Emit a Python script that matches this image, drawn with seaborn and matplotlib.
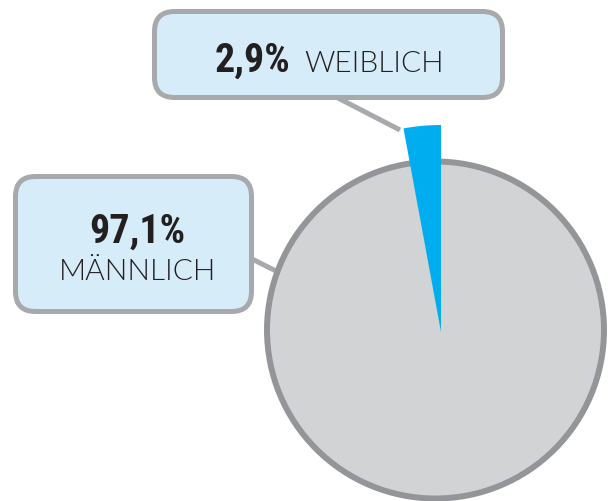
import matplotlib
matplotlib.use("Agg")
import matplotlib.pyplot as plt
from matplotlib import font_manager
from matplotlib.patches import FancyBboxPatch, Circle
import seaborn as sns

# ---- data ----
categories = ["MÄNNLICH", "WEIBLICH"]
shares = [97.1, 2.9]

# ---- style ----
sns.set_theme(style="white")
GREY_FILL = "#d1d3d4"
GREY_RIM = "#939598"
BOX_EDGE = "#a7a9ac"
BOX_FILL = "#d6ecf9"
BLUE = "#00aeef"
TEXT = "#231f20"

names = {f.name for f in font_manager.fontManager.ttflist}
bold_fam = next((f for f in ["Liberation Sans Narrow", "Roboto Condensed",
                             "DejaVu Sans Condensed", "Roboto"] if f in names), "DejaVu Sans")
light_fam = next((f for f in ["Lato", "Roboto", "Open Sans"] if f in names), "DejaVu Sans")

W, H = 609, 502
fig = plt.figure(figsize=(W / 100, H / 100), dpi=100)
ax = fig.add_axes([0, 0, 1, 1])

def Y(y):
    return H - y

def pct(v):
    return f"{v:.1f}".replace(".", ",") + "%"

# grey body of the pie (whole disc)
grey_w, _ = ax.pie(shares, colors=[GREY_FILL, GREY_FILL], startangle=90, counterclock=False,
                   center=(435.5, Y(331)), radius=168.5,
                   wedgeprops=dict(linewidth=0.5, edgecolor=GREY_FILL))
for w in grey_w:
    w.set_zorder(2)
ax.add_patch(Circle((435.5, Y(331)), 168.5, fill=False, ec=GREY_RIM, lw=4.3, zorder=3))

# highlighted wedge (drawn larger)
blue_w, _ = ax.pie(shares, colors=["none", BLUE], startangle=90, counterclock=False,
                   center=(441, Y(333)), radius=207,
                   wedgeprops=dict(linewidth=0))
blue_w[0].set_visible(False)
for w in blue_w:
    w.set_zorder(4)

# leader lines
ax.plot([338, 400], [Y(99), Y(131)], color=BOX_EDGE, lw=3.6, solid_capstyle="butt", zorder=1)
ax.plot([250, 276], [Y(259), Y(272)], color=BOX_EDGE, lw=3.6, solid_capstyle="butt", zorder=1)

# callout boxes
def box(x0, y0, x1, y1):
    p = FancyBboxPatch((x0, Y(y1)), x1 - x0, y1 - y0,
                       boxstyle="round,pad=0,rounding_size=20",
                       fc=BOX_FILL, ec=BOX_EDGE, lw=3.6, zorder=5)
    ax.add_patch(p)

box(154.5, 12.5, 502.5, 98.5)
box(15.5, 177.5, 251.5, 312.5)

# texts
ax.text(290, Y(72), pct(shares[1]), ha="right", va="baseline", fontsize=28.8,
        fontweight="bold", family=bold_fam, color=TEXT, zorder=6)
ax.text(304, Y(72), categories[1], ha="left", va="baseline", fontsize=21.5,
        fontweight=300, family=light_fam, color=TEXT, zorder=6)
ax.text(137, Y(243), pct(shares[0]), ha="center", va="baseline", fontsize=28.8,
        fontweight="bold", family=bold_fam, color=TEXT, zorder=6)
ax.text(137.5, Y(280), categories[0], ha="center", va="baseline", fontsize=21.5,
        fontweight=300, family=light_fam, color=TEXT, zorder=6)

ax.set_xlim(0, W)
ax.set_ylim(0, H)
ax.set_aspect("equal")
ax.axis("off")

fig.savefig("out.png", dpi=100)
